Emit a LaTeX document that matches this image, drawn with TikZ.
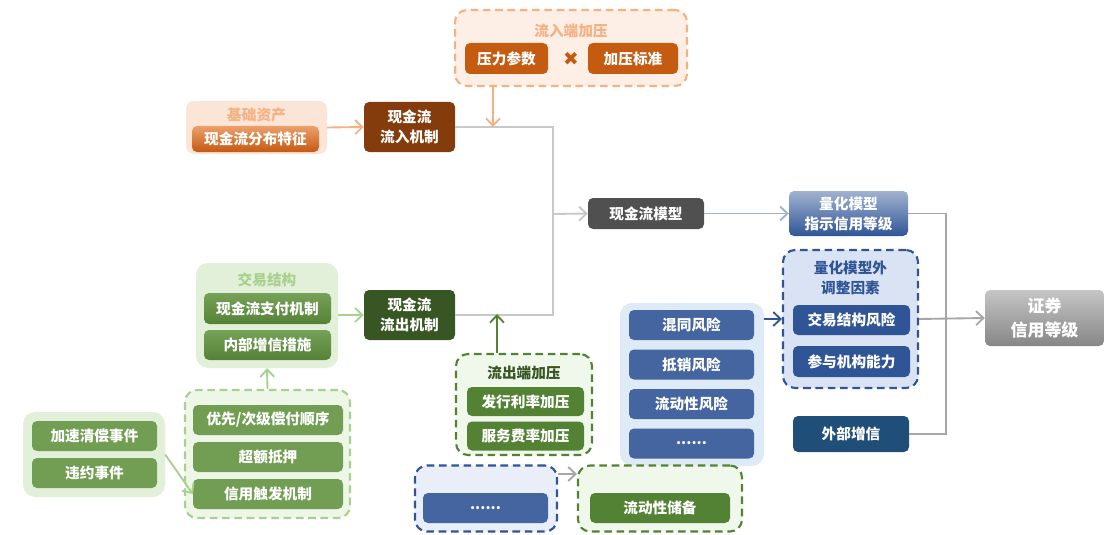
\documentclass[tikz,border=0pt]{standalone}
\usepackage{fontspec}
\setmainfont{Noto Sans CJK SC}
\newfontfamily\symfont{DejaVu Sans}
\usepackage{xcolor}
\usetikzlibrary{arrows.meta,positioning}

\definecolor{orangelt}{HTML}{F4B183}
\definecolor{orangebg}{HTML}{FBE5D6}
\definecolor{orangedk}{HTML}{C55A11}
\definecolor{brown}{HTML}{843C0C}
\definecolor{greenlt}{HTML}{A9D18E}
\definecolor{greenbg}{HTML}{E2F0D9}
\definecolor{greenmd}{HTML}{548235}
\definecolor{greendk}{HTML}{375623}
\definecolor{bluedk}{HTML}{2F5597}
\definecolor{bluebg}{HTML}{DAE3F3}
\definecolor{bluerisk}{HTML}{44659F}
\definecolor{bluecol}{HTML}{DEEBF7}
\definecolor{navy}{HTML}{1F4E79}
\definecolor{graydk}{HTML}{505050}
\definecolor{linkgray}{HTML}{C8C8C8}

\tikzset{
    box/.style 2 args={
        rectangle,
        rounded corners=0.15cm,
        inner sep=0pt,
        align=center,
        minimum width=#1*0.03cm,
        minimum height=#2*0.03cm,
        text=white,
        font=\bfseries\fontsize{12.5}{17}\selectfont
    },
    group/.style 2 args={
        rectangle,
        rounded corners=0.36cm,
        inner sep=0pt,
        minimum width=#1*0.03cm,
        minimum height=#2*0.03cm
    },
    dashgroup/.style={
        line width=1.8pt,
        dash pattern=on 6.5pt off 4pt
    },
    grouptitle/.style={
        inner sep=0pt,
        align=center,
        font=\bfseries\fontsize{12.5}{17}\selectfont
    },
    link/.style={
        draw=linkgray,
        line width=1.5pt
    },
    tip/.style={
        line width=1.6pt,
        -{Straight Barb[length=2.2mm,width=4.2mm]}
    }
}

\begin{document}
\begin{tikzpicture}[x=0.03cm,y=-0.03cm]
    \useasboundingbox (0,0) rectangle (1110,535);

    % inflow side
    \node[group={232}{76}, dashgroup, draw=orangelt, fill=orangebg!60] (inpress) at (571,48) {};
    \node[grouptitle, text=orangelt] (inpresstitle) at (571,31) {流入端加压};
    \node[box={83}{31}, fill=orangedk] (pparam) at (506.5,58.5) {压力参数};
    \node[inner sep=0pt, text=orangedk, font=\symfont\fontsize{16}{16}\selectfont] (times) at (571,59) {✖};
    \node[box={90}{31}, fill=orangedk] (pstd) at (633,58.5) {加压标准};

    \node[group={141}{53}, rounded corners=0.24cm, fill=orangebg] (asset) at (256.5,127.5) {};
    \node[grouptitle, text=orangelt] (assettitle) at (256.5,115) {基础资产};
    \node[box={127}{26}, top color=orangelt!80!orangedk, bottom color=orangedk] (cfdist) at (255.5,139) {现金流分布特征};

    \node[box={91}{50}, fill=brown] (inflow) at (409.5,127) {现金流\\流入机制};

    % model
    \node[box={116}{31}, fill=graydk] (cfmodel) at (646,213.5) {现金流模型};
    \node[box={119}{45}, top color=bluedk!45!white, bottom color=bluedk] (quant) at (848.5,213.5) {量化模型\\指示信用等级};

    % outflow side
    \node[group={142}{105}, fill=greenbg] (trade) at (267,315.5) {};
    \node[grouptitle, text=greenlt] (tradetitle) at (267,280) {交易结构};
    \node[box={127}{31}, top color=greenlt!40!greenmd, bottom color=greenmd] (pay) at (267.5,308.5) {现金流支付机制};
    \node[box={127}{30}, top color=greenlt!40!greenmd, bottom color=greenmd] (inner) at (267.5,345) {内部增信措施};

    \node[box={91}{50}, fill=greendk] (outflow) at (409.5,315) {现金流\\流出机制};

    \node[group={165}{128}, dashgroup, draw=greenlt, fill=greenbg!60] (enh) at (267.5,454) {};
    \node[box={150}{30}, fill=greenlt!35!greenmd] (seq) at (268,420) {优先/次级偿付顺序};
    \node[box={150}{30}, fill=greenlt!35!greenmd] (oc) at (268,457) {超额抵押};
    \node[box={150}{30}, fill=greenlt!35!greenmd] (trig) at (268,494) {信用触发机制};

    \node[group={142}{85}, fill=greenbg] (event) at (94,454.5) {};
    \node[box={125}{30}, fill=greenlt!35!greenmd] (accel) at (94.5,436) {加速清偿事件};
    \node[box={125}{30}, fill=greenlt!35!greenmd] (dflt) at (94.5,473) {违约事件};

    \node[group={136}{101}, dashgroup, draw=greenmd, fill=greenbg!50] (outpress) at (524,404.5) {};
    \node[grouptitle, text=greendk] (outpresstitle) at (524,373) {流出端加压};
    \node[box={117}{29}, fill=greenmd] (rate) at (525.5,401.5) {发行利率加压};
    \node[box={117}{29}, fill=greenmd] (fee) at (525.5,436) {服务费率加压};

    % risks outside the model
    \node[group={144}{163}, fill=bluecol] (risks) at (692,384.5) {};
    \node[box={125}{30}, fill=bluerisk] (mix) at (691.5,325) {混同风险};
    \node[box={125}{30}, fill=bluerisk] (setoff) at (691.5,364.5) {抵销风险};
    \node[box={125}{30}, fill=bluerisk] (liq) at (691.5,404) {流动性风险};
    \node[box={125}{30}, fill=bluerisk] (more) at (691.5,443.5) {......};

    \node[group={135}{138}, dashgroup, draw=bluedk, fill=bluebg] (adjust) at (850.5,319) {};
    \node[grouptitle, text=bluedk] (adjusttitle) at (850.5,278) {量化模型外\\调整因素};
    \node[box={117}{30}, fill=bluedk] (tsr) at (851.5,320) {交易结构风险};
    \node[box={117}{31}, fill=bluedk] (inst) at (851.5,361.5) {参与机构能力};

    \node[box={116}{36}, fill=navy] (ext) at (851,434) {外部增信};

    \node[box={119}{56}, top color=gray!45, bottom color=gray!95, font=\bfseries\fontsize{14.5}{20}\selectfont] (rating) at (1044.5,318) {证券\\信用等级};

    % bottom groups
    \node[group={142}{66}, dashgroup, draw=bluedk, fill=bluebg!60] (botleft) at (486,498.5) {};
    \node[box={125}{30}, fill=bluerisk] (dots) at (485.5,508) {......};
    \node[group={164}{66}, dashgroup, draw=greenmd, fill=greenbg!50] (botright) at (660,498.5) {};
    \node[box={140}{30}, fill=greenmd] (reserve) at (660,508) {流动性储备};

    % connectors
    \coordinate (jn) at (553,214);
    \coordinate (inTap) at (493,127);
    \coordinate (outTap) at (497,314);
    \coordinate (rj) at (946,318);
    \coordinate (botTap) at (566,474);

    \draw[link] (inflow.east) -| (jn) |- (outflow.east);
    \draw[link, tip] (jn) -- (cfmodel.west);
    \draw[draw=orangelt, tip] (inpress.south -| inTap) -- (inTap);
    \draw[draw=orangelt, tip] (asset.east) -- (inflow.west);
    \draw[draw=greenlt, tip] (trade.east |- outflow) -- (outflow.west);
    \draw[draw=greenlt, tip] (enh.north) -- (trade.south);
    \draw[draw=greenmd, tip] (outpress.north -| outTap) -- (outTap);
    \draw[draw=greenlt, tip] (event.east) -- (trig.west);
    \draw[draw=bluedk!45!white, tip] (cfmodel.east) -- (quant.west);
    \draw[draw=bluedk, tip] (risks.east |- adjust) -- (adjust.west);
    \draw[draw=gray!70, line width=1.5pt] (quant.east) -| (rj);
    \draw[draw=gray!70, line width=1.5pt] (ext.east) -| (rj);
    \draw[draw=gray!70, tip] (adjust.east) -- (rating.west);
    \draw[draw=gray!70, tip] (botleft.east |- botTap) -- (botright.west |- botTap);

\end{tikzpicture}
\end{document}
